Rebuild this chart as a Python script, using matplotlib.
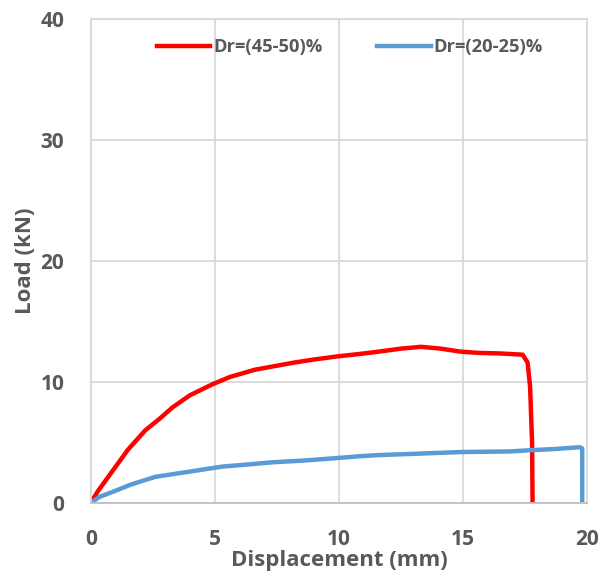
import numpy as np
import matplotlib
matplotlib.use("Agg")
from matplotlib import pyplot as plt

# --------------------- data ---------------------
# Dr=(45-50)% : displacement (mm) / load (kN)
x_dense = [0.0, 0.3, 0.9, 1.5, 2.2, 2.8, 3.3, 4.0, 4.9, 5.6, 6.6, 7.4, 8.2, 9.0, 9.9,
           10.8, 11.6, 12.5, 13.3, 14.1, 14.9, 15.6, 16.5, 17.4, 17.6, 17.7, 17.78, 17.8]
y_dense = [0.0, 1.0, 2.7, 4.4, 6.0, 7.0, 7.9, 8.9, 9.8, 10.4, 11.0, 11.3, 11.6, 11.85, 12.1,
           12.3, 12.5, 12.75, 12.9, 12.75, 12.5, 12.4, 12.35, 12.25, 11.6, 9.6, 5.0, 0.0]

# Dr=(20-25)%
x_loose = [0.0, 0.36, 1.0, 1.6, 2.6, 3.4, 4.2, 5.3, 6.2, 7.3, 8.6, 9.9, 10.8, 11.6,
           13.0, 14.9, 16.9, 17.7, 18.7, 19.7, 19.8, 19.8]
y_loose = [0.0, 0.5, 1.0, 1.5, 2.15, 2.4, 2.65, 3.0, 3.15, 3.35, 3.5, 3.7, 3.85, 3.95,
           4.05, 4.2, 4.25, 4.35, 4.45, 4.6, 4.5, 0.0]

labels = ["Dr=(45-50)%", "Dr=(20-25)%"]
x_ticks = [0, 5, 10, 15, 20]
y_ticks = [0, 10, 20, 30, 40]

# --------------------- figure ---------------------
txt = "#595959"
plt.rcParams['font.family'] = ['Open Sans', 'DejaVu Sans']
plt.rcParams['font.weight'] = 'bold'

fig = plt.figure(figsize=(6.01, 5.76), dpi=100)
ax = fig.add_axes([0.151, 0.127, 0.826, 0.840])

ax.plot(x_dense, y_dense, color="#FF0000", lw=3.2, label=labels[0], solid_joinstyle="round")
ax.plot(x_loose, y_loose, color="#5B9BD5", lw=3.2, label=labels[1], solid_joinstyle="round")

ax.set_xlim(0, 20)
ax.set_ylim(0, 40)
ax.set_xticks(x_ticks)
ax.set_yticks(y_ticks)
ax.grid(True, color="#D9D9D9", lw=1.3)
ax.set_axisbelow(True)
for s in ax.spines.values():
    s.set_color("#D9D9D9")
    s.set_linewidth(1.3)
ax.spines['bottom'].set_color("#BFBFBF")
ax.tick_params(length=0, labelsize=15, colors=txt)
ax.tick_params(axis='x', pad=19)
ax.tick_params(axis='y', pad=19)
for t in ax.get_xticklabels() + ax.get_yticklabels():
    t.set_fontweight('bold')

ax.set_xlabel("Displacement (mm)", fontsize=16, color=txt, fontweight='bold', labelpad=0)
ax.set_ylabel("Load (kN)", fontsize=16, color=txt, fontweight='bold', labelpad=3)

leg = ax.legend(loc="upper center", ncol=2, frameon=False, fontsize=13.2,
                bbox_to_anchor=(0.522, 0.995), handlelength=2.9, handletextpad=0.15,
                columnspacing=3.0)
for t in leg.get_texts():
    t.set_color(txt)
    t.set_fontweight('bold')

fig.savefig("out.png", dpi=100)
